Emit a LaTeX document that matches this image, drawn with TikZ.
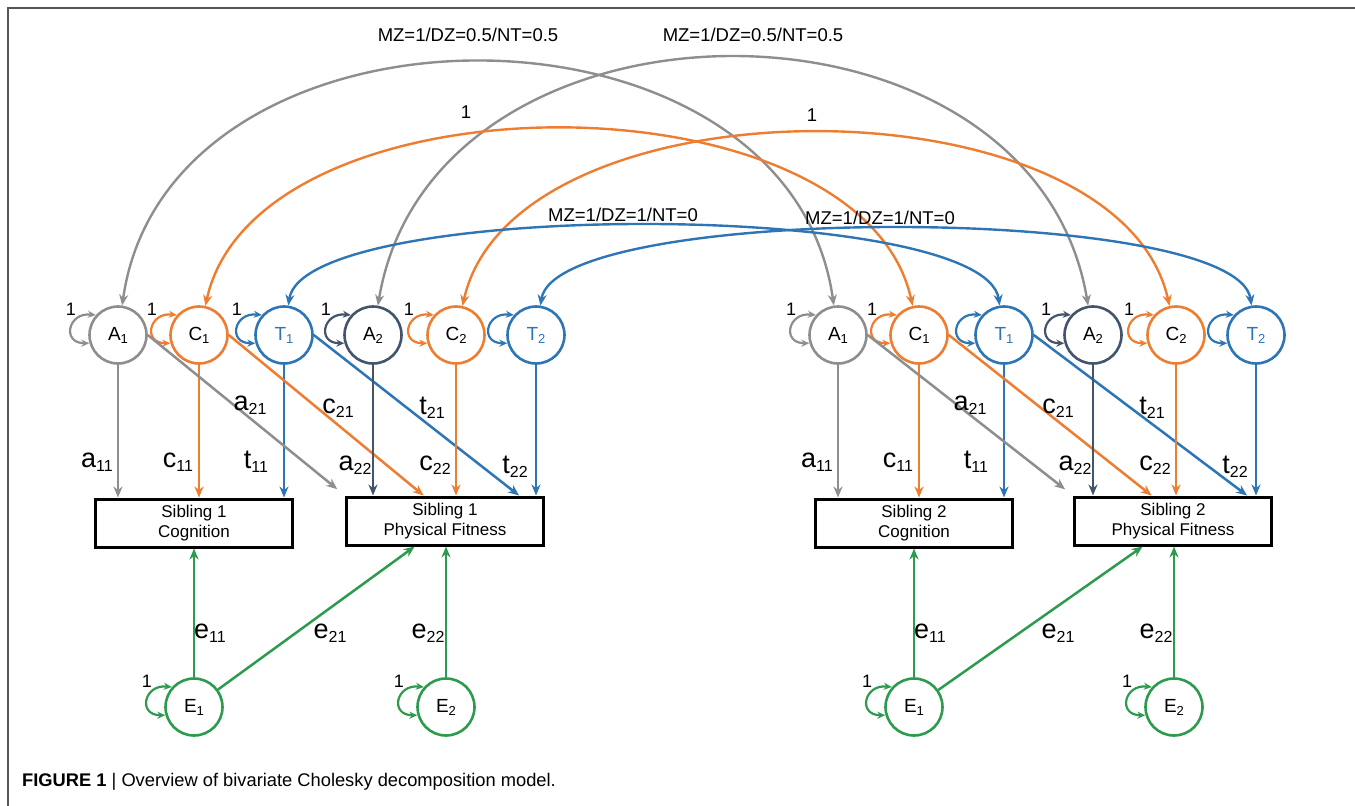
\documentclass[tikz,border=0pt]{standalone}
\usepackage{fontspec}
\setmainfont{Liberation Sans}
\usetikzlibrary{arrows.meta,calc}
\definecolor{agray}{HTML}{8E8E8E}
\definecolor{corange}{HTML}{ED7D31}
\definecolor{tblue}{HTML}{2E75B6}
\definecolor{aslate}{HTML}{44546A}
\definecolor{egreen}{HTML}{2D9B4E}
\definecolor{framegray}{HTML}{555555}
\newcommand\lsub[1]{\raisebox{-3pt}{\fontsize{13}{13}\selectfont #1}}
\newcommand\pcoef[2]{{\fontsize{27}{27}\selectfont #1}\raisebox{-4pt}{\fontsize{16}{16}\selectfont #2}}
\tikzset{latent/.style={circle,draw,line width=2.6pt,minimum size=57pt,inner sep=0pt,fill=white,font=\fontsize{19}{19}\selectfont},
observed/.style={draw,line width=3pt,minimum width=197pt,minimum height=48pt,inner sep=0pt,align=center,font=\fontsize{17}{20}\selectfont},
loading/.style={-{Stealth[length=11pt,width=9pt]},line width=2.5pt},
twincov/.style={{Stealth[length=11pt,width=9pt]}-{Stealth[length=11pt,width=9pt]},line width=2.4pt},
varloop/.style={{Stealth[length=8pt,width=7pt]}-{Stealth[length=8pt,width=7pt]},line width=2.2pt},
onel/.style={inner sep=0pt,font=\fontsize{18}{18}\selectfont},
coefl/.style={inner sep=0pt},
twinl/.style={inner sep=0pt,font=\fontsize{18.5}{18.5}\selectfont}}
\begin{document}
\begin{tikzpicture}[x=1pt,y=-1pt]
\useasboundingbox (0,0) rectangle (1355,806);
\draw[framegray,line width=1.6pt] (8,806) -- (8,8) -- (1355,8);

% one block per sibling
\foreach \s/\dx/\bx in {1/0/0,2/720/728}{
  \node[latent,draw=agray] (A1-\s) at (118+\dx,335) {A\lsub{1}};
  \node[latent,draw=corange] (C1-\s) at (199+\dx,335) {C\lsub{1}};
  \node[latent,draw=tblue,text=tblue] (T1-\s) at (284+\dx,335) {T\lsub{1}};
  \node[latent,draw=aslate] (A2-\s) at (373+\dx,335) {A\lsub{2}};
  \node[latent,draw=corange] (C2-\s) at (456+\dx,335) {C\lsub{2}};
  \node[latent,draw=tblue,text=tblue] (T2-\s) at (536+\dx,335) {T\lsub{2}};
  \node[latent,draw=egreen] (E1-\s) at (194+\dx,707) {E\lsub{1}};
  \node[latent,draw=egreen] (E2-\s) at (446+\bx,707) {E\lsub{2}};
  \node[observed] (cog-\s) at (194+\dx,523) {Sibling \s\\Cognition};
  \node[observed] (fit-\s) at (445+\bx,521) {Sibling \s\\Physical Fitness};
  % variances
  \foreach \n/\c in {A1/agray,C1/corange,T1/tblue,A2/aslate,C2/corange,T2/tblue,E1/egreen,E2/egreen}
    \draw[varloop,\c] (\n-\s.138) .. controls +(-28,-3) and +(-28,0) .. (\n-\s.196);
  \foreach \n in {A1,C1,A2,C2,E1,E2}
    \node[onel] (one\n-\s) at ($(\n-\s)+(-47,-26)$) {1};
  \ifnum\s=1 \node[onel] (oneT1-\s) at ($(T1-\s)+(-47,-26)$) {1};\fi
  % loadings
  \draw[loading,agray] (A1-\s) -- (A1-\s |- cog-\s.north);
  \draw[loading,corange] (C1-\s) -- (C1-\s |- cog-\s.north);
  \draw[loading,tblue] (T1-\s) -- (T1-\s |- cog-\s.north);
  \draw[loading,agray,shorten >=10pt] (A1-\s.east) -- (fit-\s.north west);
  \draw[loading,corange] (C1-\s.east) -- (fit-\s.130);
  \draw[loading,tblue] (T1-\s.east) -- (fit-\s.19);
  \draw[loading,aslate] (A2-\s) -- (A2-\s |- fit-\s.north);
  \draw[loading,corange] (C2-\s) -- (C2-\s |- fit-\s.north);
  \draw[loading,tblue] (T2-\s) -- (T2-\s |- fit-\s.north);
  \draw[loading,egreen] (E1-\s) -- (E1-\s |- cog-\s.south);
  \draw[loading,egreen] (E1-\s) -- (fit-\s.220);
  \draw[loading,egreen] (E2-\s) -- (E2-\s |- fit-\s.south);
  \node[coefl] (a11-\s) at (97+\dx,462) {\pcoef{a}{11}};
  \node[coefl] (c11-\s) at (178+\dx,462) {\pcoef{c}{11}};
  \node[coefl] (t11-\s) at (256+\dx,462) {\pcoef{t}{11}};
  \node[coefl] (a21-\s) at (250+\dx,405) {\pcoef{a}{21}};
  \node[coefl] (c21-\s) at (338+\dx,408) {\pcoef{c}{21}};
  \node[coefl] (t21-\s) at (432+\dx,408) {\pcoef{t}{21}};
  \node[coefl] (a22-\s) at (355+\dx,465) {\pcoef{a}{22}};
  \node[coefl] (c22-\s) at (435+\dx,465) {\pcoef{c}{22}};
  \node[coefl] (t22-\s) at (515+\dx,467) {\pcoef{t}{22}};
  \node[coefl] (e11-\s) at (210+\dx,633) {\pcoef{e}{11}};
  \node[coefl] (e21-\s) at (330+\bx,633) {\pcoef{e}{21}};
  \node[coefl] (e22-\s) at (428+\bx,633) {\pcoef{e}{22}};
}

% twin correlations
\draw[twincov,agray] (A1-1) .. controls +(50,-354) and +(-50,-354) .. (A1-2);
\draw[twincov,agray] (A2-1) .. controls +(60,-360) and +(-60,-360) .. (A2-2);
\draw[twincov,corange] (C1-1) .. controls +(58,-265) and +(-58,-265) .. (C1-2);
\draw[twincov,corange] (C2-1) .. controls +(58,-260) and +(-58,-260) .. (C2-2);
\draw[twincov,tblue] (T1-1) .. controls +(20,-136) and +(-20,-136) .. (T1-2);
\draw[twincov,tblue] (T2-1) .. controls +(20,-132) and +(-20,-132) .. (T2-2);
\node[twinl] (rA1) at (468,35) {MZ=1/DZ=0.5/NT=0.5};
\node[twinl] (rA2) at (753,35) {MZ=1/DZ=0.5/NT=0.5};
\node[twinl] (rC1) at (466,112) {1};
\node[twinl] (rC2) at (812,115) {1};
\node[twinl] (rT1) at (623,215) {MZ=1/DZ=1/NT=0};
\node[twinl] (rT2) at (880,218) {MZ=1/DZ=1/NT=0};

\node[anchor=west,inner sep=0pt,font=\fontsize{18.3}{18.3}\selectfont] (caption) at (22,782)
  {\textbf{FIGURE 1} | Overview of bivariate Cholesky decomposition model.};
\end{tikzpicture}
\end{document}
